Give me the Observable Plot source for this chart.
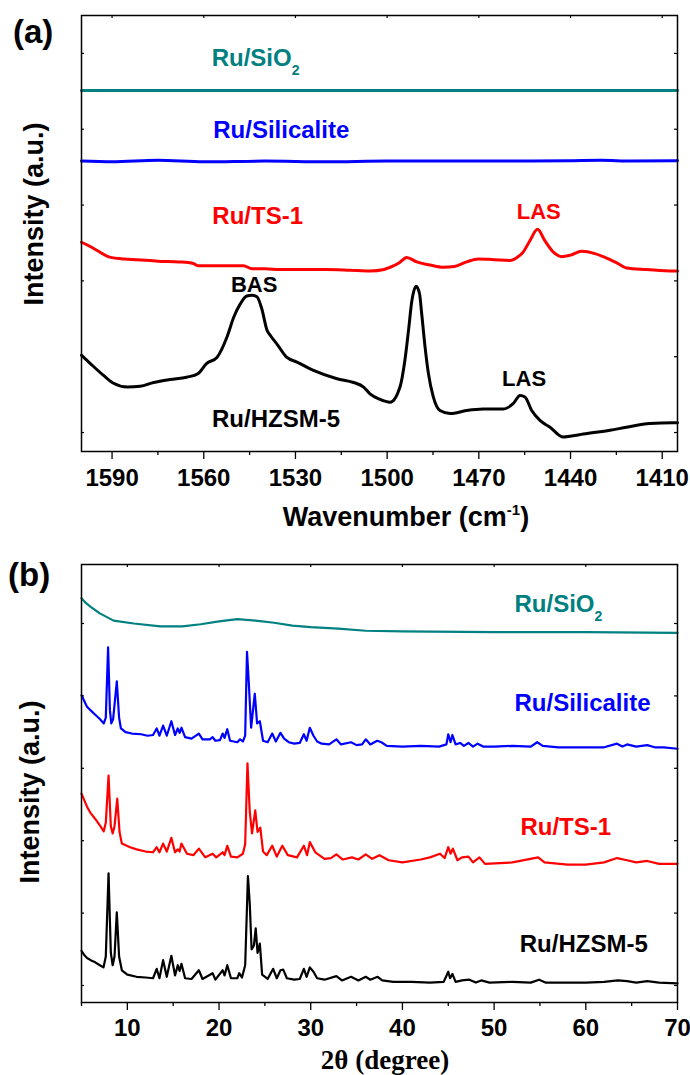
<!DOCTYPE html>
<html><head><meta charset="utf-8">
<script src="https://cdn.jsdelivr.net/npm/d3@7"></script>
<script src="https://cdn.jsdelivr.net/npm/@observablehq/plot@0.6"></script>
<style>body{margin:0;background:#fff} svg{display:block}</style>
</head><body><div id="chart"></div>
<script>
// ---------- data ----------
const sampleNames = ["Ru/SiO2", "Ru/Silicalite", "Ru/TS-1", "Ru/HZSM-5"];
const sampleColors = ["#008080", "#0000ff", "#ff0000", "#000000"];

const irTicksMajor = [1590, 1560, 1530, 1500, 1470, 1440, 1410];
const irTicksMinor = [1575, 1545, 1515, 1485, 1455, 1425];
const xrdTicksMajor = [10, 20, 30, 40, 50, 60, 70];
const xrdTicksMinor = [5, 15, 25, 35, 45, 55, 65];
const intensityTicks = [1, 2, 3, 4, 5, 6];

// (a) pyridine IR: [wavenumber, intensity a.u.]
const irSiO2 = [[1600,5.51],[1550,5.51],[1500,5.51],[1450,5.51],[1405,5.51]];
const irSilicalite = [[1600,4.58],[1590,4.57],[1575,4.59],[1560,4.57],[1540,4.58],[1520,4.57],[1500,4.58],[1480,4.58],[1460,4.58],[1440,4.585],[1430,4.59],[1420,4.58],[1405,4.585]];
const irTS1 = [[1600,3.51],[1597,3.45],[1594.9,3.40],[1590.5,3.31],[1586,3.29],[1581.8,3.28],[1575,3.26],[1568,3.25],[1563.4,3.23],[1562,3.20],[1555,3.20],[1547,3.20],[1544.2,3.16],[1540,3.16],[1535,3.15],[1527.4,3.15],[1520,3.15],[1512,3.14],[1505.6,3.13],[1501,3.15],[1499,3.18],[1496,3.24],[1493.6,3.31],[1490.3,3.25],[1486,3.21],[1481.6,3.18],[1478,3.19],[1474,3.25],[1470.2,3.29],[1465,3.28],[1459.8,3.27],[1457.5,3.31],[1455.5,3.38],[1453.3,3.53],[1450.8,3.68],[1448.4,3.53],[1445.6,3.38],[1442.9,3.32],[1440,3.34],[1436.4,3.39],[1432,3.36],[1429.3,3.32],[1425,3.24],[1421.7,3.17],[1415,3.15],[1406.4,3.13],[1405,3.13]];
const irHZSM5 = [[1600,2.02],[1597.1,1.91],[1592.7,1.75],[1589.5,1.65],[1585,1.60],[1580.8,1.61],[1576.4,1.66],[1571,1.70],[1565.6,1.73],[1561.8,1.78],[1559.1,1.91],[1555.7,1.99],[1552.4,2.26],[1550.2,2.52],[1548,2.70],[1545.9,2.80],[1544.2,2.81],[1542.6,2.79],[1541,2.63],[1539.3,2.35],[1538.2,2.28],[1536.1,2.17],[1532.8,1.99],[1529.5,1.93],[1524.1,1.82],[1516.4,1.71],[1511,1.66],[1507.7,1.60],[1505.6,1.51],[1502.5,1.44],[1499,1.40],[1495.8,1.60],[1494.2,1.95],[1493,2.35],[1491.9,2.74],[1490.5,2.93],[1489.4,2.83],[1488.7,2.57],[1487.6,2.13],[1486.5,1.78],[1484.9,1.47],[1482.7,1.29],[1479.4,1.25],[1474,1.29],[1468.6,1.31],[1462,1.31],[1458.8,1.38],[1456.5,1.49],[1454.9,1.47],[1452.7,1.29],[1450,1.16],[1446.7,1.07],[1442.4,0.94],[1440.2,0.95],[1435.8,0.98],[1427.1,1.03],[1421.7,1.07],[1414.1,1.12],[1406.4,1.13],[1405,1.13]];

// (b) XRD: [2theta, intensity a.u.]
const xrdSiO2 = [[5,6.35],[5.5,6.28],[6,6.23],[7,6.14],[8.5,6.04],[10.7,6.00],[13.6,5.96],[16,5.96],[18,5.99],[20,6.03],[22,6.06],[24,6.04],[26,6.01],[28,5.97],[30,5.95],[33,5.93],[36,5.90],[40,5.89],[50,5.88],[60,5.88],[70,5.87]];
const xrdSilicalite = [[5,5.01],[5.3,4.93],[5.6,4.85],[6,4.80],[6.5,4.74],[7,4.68],[7.43,4.62],[7.65,4.70],[7.9,5.67],[8.1,4.80],[8.25,4.62],[8.45,4.68],[8.85,5.20],[9.1,4.70],[9.3,4.55],[9.8,4.50],[10.5,4.48],[11.5,4.47],[12.2,4.45],[12.8,4.46],[13.2,4.55],[13.5,4.45],[13.9,4.59],[14.3,4.45],[14.8,4.65],[15.2,4.46],[15.5,4.55],[15.7,4.49],[15.9,4.56],[16.3,4.43],[17,4.41],[17.8,4.48],[18.2,4.40],[19,4.40],[19.3,4.43],[19.6,4.38],[20.1,4.39],[20.4,4.48],[20.6,4.42],[20.9,4.54],[21.2,4.38],[22,4.36],[22.3,4.40],[22.6,4.37],[22.85,4.45],[23.05,5.61],[23.25,5.17],[23.5,4.56],[23.9,5.03],[24.15,4.62],[24.45,4.65],[24.8,4.38],[25.3,4.36],[25.8,4.48],[26.2,4.37],[26.7,4.49],[27.1,4.41],[27.6,4.36],[28.2,4.34],[28.8,4.35],[29.25,4.47],[29.55,4.38],[29.9,4.56],[30.3,4.45],[30.7,4.37],[31.2,4.34],[32,4.33],[32.8,4.40],[33.3,4.33],[34.4,4.36],[35,4.32],[35.6,4.33],[36,4.40],[36.5,4.33],[37.25,4.38],[37.7,4.36],[38.3,4.31],[40,4.30],[42,4.31],[44,4.30],[44.8,4.33],[45,4.47],[45.25,4.36],[45.45,4.46],[45.8,4.33],[46.3,4.35],[46.7,4.31],[47.2,4.35],[47.7,4.30],[48.2,4.34],[48.8,4.30],[50,4.30],[52,4.31],[54,4.30],[54.7,4.36],[55.3,4.31],[57,4.29],[60,4.29],[62,4.29],[63.4,4.34],[64,4.30],[64.5,4.33],[65.5,4.30],[66.7,4.32],[67.5,4.29],[68.5,4.29],[70,4.27]];
const xrdTS1 = [[5,3.65],[5.3,3.56],[5.6,3.47],[6,3.38],[6.5,3.30],[7,3.21],[7.43,3.13],[7.65,3.25],[7.95,3.90],[8.2,3.20],[8.4,3.10],[8.6,3.20],[8.9,3.58],[9.15,3.12],[9.4,2.96],[10.3,2.91],[11,2.88],[12,2.85],[12.8,2.84],[13.2,2.91],[13.5,2.84],[13.9,2.96],[14.3,2.85],[14.8,3.04],[15.2,2.84],[15.5,2.88],[15.7,2.85],[15.9,2.96],[16.5,2.82],[17.2,2.80],[17.8,2.89],[18.5,2.77],[19.3,2.82],[19.7,2.77],[20.4,2.84],[20.6,2.80],[20.9,2.93],[21.3,2.78],[22,2.77],[22.6,2.82],[22.85,2.95],[23.1,4.07],[23.35,3.40],[23.6,3.10],[23.95,3.42],[24.2,3.12],[24.5,3.18],[24.8,2.85],[25.2,2.80],[25.8,2.93],[26.3,2.78],[26.9,2.93],[27.5,2.80],[28.5,2.77],[29.25,2.93],[29.6,2.80],[29.9,2.98],[30.5,2.84],[31.5,2.75],[32.2,2.76],[32.8,2.81],[33.5,2.74],[34.5,2.77],[35.2,2.74],[36,2.81],[36.7,2.75],[37.5,2.80],[38.5,2.73],[40,2.70],[42,2.74],[43,2.77],[44.1,2.82],[44.6,2.76],[45,2.91],[45.25,2.82],[45.5,2.89],[46,2.73],[46.5,2.77],[47.2,2.78],[47.7,2.70],[48.4,2.77],[49,2.68],[52,2.70],[54.8,2.77],[55.5,2.70],[58,2.67],[60,2.67],[62,2.70],[63.4,2.76],[64.5,2.73],[65.5,2.70],[66.7,2.72],[68,2.68],[70,2.68]];
const xrdHZSM5 = [[5,1.48],[5.3,1.42],[5.6,1.38],[6,1.35],[6.5,1.32],[7,1.28],[7.4,1.25],[7.65,1.40],[7.95,2.55],[8.2,1.45],[8.4,1.28],[8.6,1.40],[8.85,2.01],[9.1,1.40],[9.4,1.21],[10,1.15],[11,1.12],[12,1.11],[12.8,1.10],[13.2,1.23],[13.5,1.10],[13.9,1.35],[14.3,1.12],[14.8,1.41],[15.2,1.14],[15.5,1.28],[15.7,1.20],[15.9,1.30],[16.3,1.10],[17,1.09],[17.8,1.21],[18.2,1.09],[19.3,1.17],[19.6,1.08],[20.4,1.21],[20.6,1.14],[20.9,1.28],[21.3,1.10],[22,1.10],[22.2,1.17],[22.5,1.11],[22.85,1.28],[23.15,2.51],[23.35,2.13],[23.55,1.50],[23.8,1.55],[24,1.79],[24.2,1.45],[24.45,1.58],[24.7,1.15],[25.3,1.09],[25.9,1.23],[26.3,1.10],[26.7,1.21],[27,1.22],[27.4,1.10],[28.2,1.08],[28.8,1.09],[29.25,1.23],[29.55,1.12],[29.9,1.25],[30.3,1.19],[30.7,1.10],[31.5,1.08],[32.8,1.13],[33.4,1.07],[34.4,1.12],[35.2,1.07],[36,1.12],[36.5,1.08],[37.3,1.12],[37.8,1.07],[39,1.05],[41,1.05],[43,1.04],[44.5,1.05],[45,1.19],[45.2,1.10],[45.45,1.16],[45.8,1.05],[46.5,1.07],[47.3,1.08],[48,1.04],[48.6,1.07],[49.5,1.04],[52,1.05],[54,1.04],[54.9,1.08],[55.6,1.04],[58,1.04],[60,1.04],[62,1.05],[63.5,1.07],[64.5,1.06],[65.5,1.04],[66.7,1.06],[68,1.04],[70,1.03]];

// ---------- build ----------
const FONT = "'Liberation Sans', Arial, Helvetica, sans-serif";
const SERIF = "'Liberation Serif', 'Times New Roman', serif";
const rows = (pairs, name) => pairs.map(([x, y]) => ({x, y, name}));

const irData = [
  ...rows(irSiO2, sampleNames[0]), ...rows(irSilicalite, sampleNames[1]),
  ...rows(irTS1, sampleNames[2]), ...rows(irHZSM5, sampleNames[3])
];
const xrdData = [
  ...rows(xrdSiO2, sampleNames[0]), ...rows(xrdSilicalite, sampleNames[1]),
  ...rows(xrdTS1, sampleNames[2]), ...rows(xrdHZSM5, sampleNames[3])
];

const colorOf = Object.fromEntries(sampleNames.map((n, i) => [n, sampleColors[i]]));

// annotation anchors (data coordinates)
const irSampleLabels = [
  {x: 1557.4, y: 5.84, text: sampleNames[0], color: colorOf[sampleNames[0]]},
  {x: 1556.9, y: 4.887, text: sampleNames[1], color: colorOf[sampleNames[1]]},
  {x: 1557.2, y: 3.754, text: sampleNames[2], color: colorOf[sampleNames[2]]},
  {x: 1557.3, y: 1.07, text: sampleNames[3], color: colorOf[sampleNames[3]]}
];
const irPeakLabels = [
  {x: 1543.5, y: 2.86, text: "BAS", color: "#000000"},
  {x: 1450.4, y: 3.81, text: "LAS", color: "#ff0000"},
  {x: 1455.2, y: 1.61, text: "LAS", color: "#000000"}
];
const xrdSampleLabels = [
  {x: 52.22, y: 6.156, text: sampleNames[0], color: colorOf[sampleNames[0]]},
  {x: 52.22, y: 4.788, text: sampleNames[1], color: colorOf[sampleNames[1]]},
  {x: 52.87, y: 3.085, text: sampleNames[2], color: colorOf[sampleNames[2]]},
  {x: 52.80, y: 1.46, text: sampleNames[3], color: colorOf[sampleNames[3]]}
];

const axisStyle = {fontFamily: FONT, fontSize: "23px", fontWeight: "bold", background: "#fff", color: "#000", overflow: "visible"};
const blank = () => "";

// inner plot sizes used to make short inward ticks with tick marks
function frameAxes(major, minor, innerW, innerH, labelDy) {
  return [
    Plot.axisX({anchor: "bottom", ticks: major, tickSize: 8, tickFormat: blank, label: null, strokeWidth: 1.3}),
    Plot.axisX({anchor: "bottom", ticks: minor, tickSize: 4, tickFormat: blank, label: null, strokeWidth: 1.3}),
    Plot.text(major, {x: (d) => d, text: (d) => String(d), frameAnchor: "bottom", lineAnchor: "top", dy: labelDy,
      fontSize: 24, fontWeight: "bold", fontFamily: FONT, fill: "#000"}),
    Plot.tickX(major, {x: (d) => d, insetBottom: innerH - 3, stroke: "#000", strokeWidth: 1.2}),
    Plot.tickY(intensityTicks, {y: (d) => d, insetRight: innerW - 3, stroke: "#000", strokeWidth: 1.2}),
    Plot.tickY(intensityTicks, {y: (d) => d, insetLeft: innerW - 3, stroke: "#000", strokeWidth: 1.2}),
    Plot.frame({stroke: "#000", strokeWidth: 1.5})
  ];
}

const labelText = (data, anchor, size) => Plot.text(data, {
  x: "x", y: "y", text: "text", fill: "color", textAnchor: anchor, fontSize: size,
  lineAnchor: "bottom", fontWeight: "bold", fontFamily: FONT
});

const plotA = Plot.plot({
  width: 690, height: 540,
  marginTop: 15, marginBottom: 89, marginLeft: 81, marginRight: 13,
  style: axisStyle,
  x: {domain: [1600, 1405]},
  y: {domain: [0.75, 6.5], axis: null},
  color: {domain: sampleNames, range: sampleColors},
  marks: [
    Plot.line(irData, {x: "x", y: "y", z: "name", stroke: "name", strokeWidth: 3, curve: "monotone-x"}),
    ...frameAxes(irTicksMajor, irTicksMinor, 596, 436, 17),
    labelText(irSampleLabels, "start", 24),
    labelText(irPeakLabels, "middle", 22)
  ]
});

const plotB = Plot.plot({
  width: 690, height: 535,
  marginTop: 24, marginBottom: 73, marginLeft: 81, marginRight: 13,
  style: axisStyle,
  x: {domain: [5, 70]},
  y: {domain: [0.765, 6.815], axis: null},
  color: {domain: sampleNames, range: sampleColors},
  marks: [
    Plot.line(xrdData, {x: "x", y: "y", z: "name", stroke: "name", strokeWidth: 2.2}),
    ...frameAxes(xrdTicksMajor, xrdTicksMinor, 596, 438, 16),
    labelText(xrdSampleLabels, "start", 24)
  ]
});

function finish(svg) {
  d3.select(svg).selectAll("text").filter(function () { return this.textContent === "Ru/SiO2"; })
    .each(function () {
      const t = d3.select(this);
      t.text("Ru/SiO");
      t.append("tspan").attr("font-size", 14).attr("dy", 9).text("2");
    });
}
finish(plotA);
finish(plotB);

function addText(svg, {x, y, text, size, family = FONT, rotate = 0, anchor = "middle"}) {
  const t = d3.select(svg).append("text")
    .attr("transform", `translate(${x},${y}) rotate(${rotate})`)
    .attr("text-anchor", anchor)
    .attr("font-family", family)
    .attr("font-weight", "bold")
    .attr("font-size", size)
    .attr("fill", "#000");
  if (typeof text === "string") t.text(text);
  else text(t);
  return t;
}

addText(plotA, {x: 13, y: 43, text: "(a)", size: 33, anchor: "start"});
addText(plotA, {x: 43, y: 214, text: "Intensity (a.u.)", size: 27, rotate: -90});
addText(plotA, {x: 406, y: 526, size: 27, text: (t) => {
  t.append("tspan").text("Wavenumber (cm");
  t.append("tspan").attr("font-size", 15).attr("dy", -11).text("-1");
  t.append("tspan").attr("dy", 11).text(")");
}});

addText(plotB, {x: 8, y: 46, text: "(b)", size: 33, anchor: "start"});
addText(plotB, {x: 39, y: 252, text: "Intensity (a.u.)", size: 27, rotate: -90});
addText(plotB, {x: 385, y: 529, text: "2\u03b8 (degree)", size: 27, family: SERIF});

const chart = document.getElementById("chart");
chart.append(plotA, plotB);
</script>
</body></html>
